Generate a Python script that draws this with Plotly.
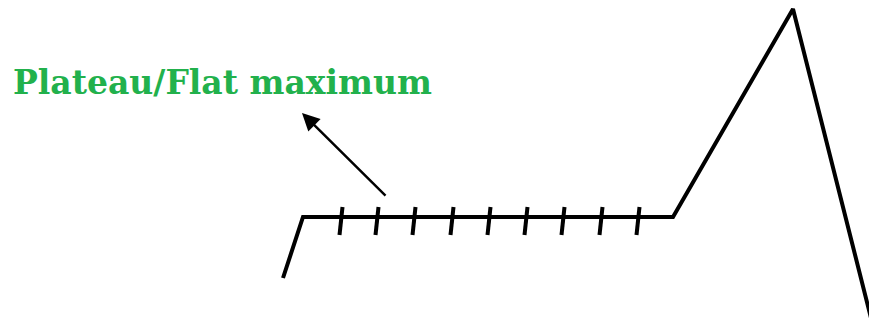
import plotly.graph_objects as go

# diagram data (pixel-like units, y grows downward) -------------------------
curve_x = [283, 303, 673, 793, 872]
curve_y = [278, 217, 217, 9, 322]

tick_x = [341, 377, 414, 452, 489, 526, 563, 601, 638]
tick_y = 217

arrow_tail = (387, 197)
arrow_head = (302, 113)

label_text = "Plateau/Flat maximum"
label_pos = (11, 82)

W, H = 869, 322

fig = go.Figure()

# main curve
fig.add_trace(go.Scatter(x=curve_x, y=curve_y, mode="lines",
                         line=dict(color="black", width=4),
                         hoverinfo="skip"))

# small slanted ticks along the plateau
tx, ty = [], []
for x in tick_x:
    tx += [x - 1.5, x + 1.5, None]
    ty += [tick_y + 18, tick_y - 10, None]
fig.add_trace(go.Scatter(x=tx, y=ty, mode="lines",
                         line=dict(color="black", width=4),
                         hoverinfo="skip"))

# arrow pointing to the label
fig.add_annotation(x=arrow_head[0], y=arrow_head[1],
                   ax=arrow_tail[0], ay=arrow_tail[1],
                   xref="x", yref="y", axref="x", ayref="y",
                   showarrow=True, arrowhead=2, arrowsize=1.4,
                   arrowwidth=2.5, arrowcolor="black", text="")

# label
fig.add_annotation(x=label_pos[0], y=label_pos[1], xref="x", yref="y",
                   text="<b>" + label_text + "</b>", showarrow=False,
                   xanchor="left", yanchor="middle",
                   font=dict(family="DejaVu Serif", size=33, color="#22b14c"))

fig.update_xaxes(range=[0, W], visible=False, fixedrange=True)
fig.update_yaxes(range=[H, 0], visible=False, fixedrange=True)
fig.update_layout(width=W, height=H, margin=dict(l=0, r=0, t=0, b=0),
                  plot_bgcolor="white", paper_bgcolor="white",
                  showlegend=False)

# drop the default page margin so the figure fills the window
fig.write_html("out.html", config={"displayModeBar": False},
               post_script="document.body.style.margin='0';"
                           "document.body.style.overflow='hidden';")
